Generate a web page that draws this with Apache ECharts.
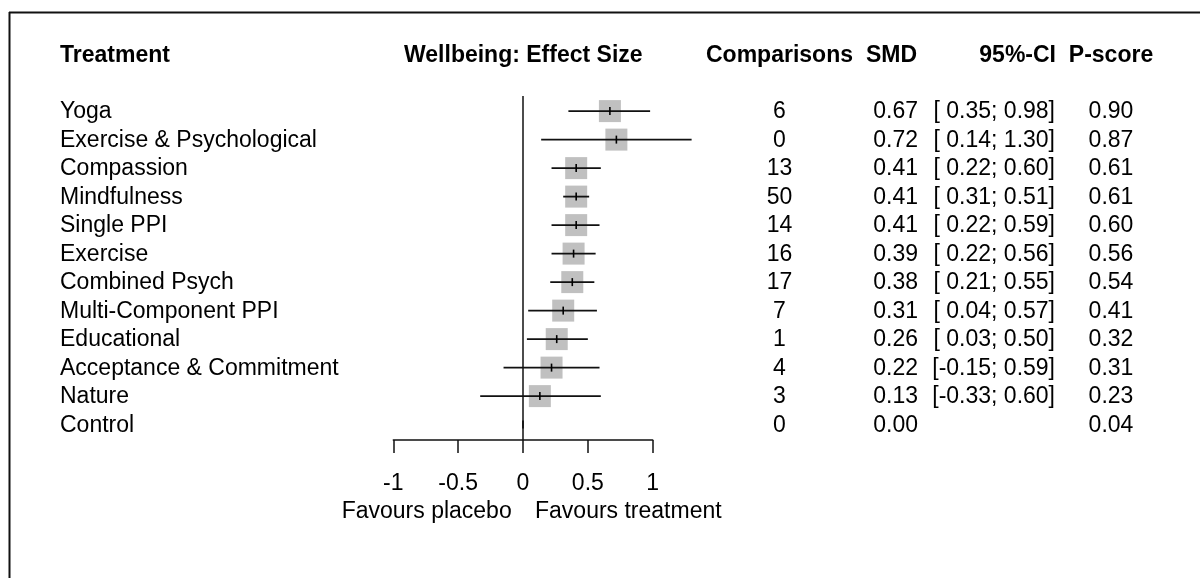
<!DOCTYPE html>
<html>
<head>
<meta charset="utf-8">
<title>Wellbeing forest plot</title>
<script src="https://cdn.jsdelivr.net/npm/echarts@6/dist/echarts.min.js"></script>
<style>
  html, body { margin: 0; padding: 0; background: #fff; }
  #main { width: 1200px; height: 578px; }
</style>
</head>
<body>
<div id="main"></div>
<script>
  // data
  var treatments = ['Yoga', 'Exercise & Psychological', 'Compassion', 'Mindfulness', 'Single PPI', 'Exercise',
    'Combined Psych', 'Multi-Component PPI', 'Educational', 'Acceptance & Commitment', 'Nature', 'Control']
  var comparisons = [6, 0, 13, 50, 14, 16, 17, 7, 1, 4, 3, 0]
  var smd = [0.67, 0.72, 0.41, 0.41, 0.41, 0.39, 0.38, 0.31, 0.26, 0.22, 0.13, 0.00]
  var ciLower = [0.35, 0.14, 0.22, 0.31, 0.22, 0.22, 0.21, 0.04, 0.03, -0.15, -0.33, null]
  var ciUpper = [0.98, 1.30, 0.60, 0.51, 0.59, 0.56, 0.55, 0.57, 0.50, 0.59, 0.60, null]
  var pScore = [0.90, 0.87, 0.61, 0.61, 0.60, 0.56, 0.54, 0.41, 0.32, 0.31, 0.23, 0.04]
  var xTicks = [-1, -0.5, 0, 0.5, 1]

  var FONT = "'Liberation Sans', Arial, Helvetica, sans-serif"
  var FS = 23

  function fmtCI(i) {
    if (ciLower[i] === null) return ''
    var lo = ciLower[i]
    return '[' + (lo >= 0 ? ' ' : '') + lo.toFixed(2) + '; ' + ciUpper[i].toFixed(2) + ']'
  }

  function txt(x, y, s, align, bold) {
    return {
      type: 'text',
      x: x,
      y: y,
      style: {
        text: s,
        fill: '#000',
        font: (bold ? 'bold ' : '') + FS + 'px ' + FONT,
        textAlign: align,
        textVerticalAlign: 'middle'
      }
    }
  }

  var myChart = echarts.init(document.getElementById('main'))

  var option = {
    backgroundColor: '#fff',
    animation: false,
    grid: { left: 393.3, right: 547.3, top: 96, bottom: 138 },
    xAxis: {
      type: 'value',
      position: 'bottom',
      min: -1,
      max: 1,
      interval: 0.5,
      splitLine: { show: false },
      axisLine: { show: true, onZero: false, lineStyle: { color: '#111', width: 1.5 } },
      axisTick: { show: true, length: 13, lineStyle: { color: '#111', width: 1.5 } },
      axisLabel: {
        margin: 32,
        color: '#000',
        fontSize: FS,
        fontFamily: FONT,
        formatter: function (v) {
          return xTicks.indexOf(v) >= 0 ? String(v) : ''
        }
      }
    },
    yAxis: {
      type: 'value',
      inverse: true,
      min: -0.53,
      max: 11.54,
      show: false
    },
    graphic: [
      // frame
      { type: 'line', shape: { x1: 9, y1: 12.5, x2: 1200, y2: 12.5 }, style: { stroke: '#111', lineWidth: 2 } },
      { type: 'line', shape: { x1: 9.5, y1: 12, x2: 9.5, y2: 578 }, style: { stroke: '#111', lineWidth: 2 } },
      // headers
      txt(60, 56, 'Treatment', 'left', true),
      txt(523.3, 56, 'Wellbeing: Effect Size', 'center', true),
      txt(779.5, 56, 'Comparisons', 'center', true),
      txt(917, 56, 'SMD', 'right', true),
      txt(1056, 56, '95%-CI', 'right', true),
      txt(1111, 56, 'P-score', 'center', true),
      // axis annotations
      txt(511.7, 512, 'Favours placebo', 'right', false),
      txt(535, 512, 'Favours treatment', 'left', false)
    ],
    series: [
      {
        // forest marks: square, CI line, point tick
        type: 'custom',
        clip: false,
        silent: true,
        encode: { x: 1, y: 0 },
        data: treatments.map(function (t, i) { return [i, smd[i]] }),
        renderItem: function (params, api) {
          var i = params.dataIndex
          var c = api.coord([smd[i], i])
          var children = []
          if (ciLower[i] !== null) {
            var a = api.coord([ciLower[i], i])
            var b = api.coord([ciUpper[i], i])
            children.push({
              type: 'rect',
              shape: { x: c[0] - 11, y: c[1] - 11, width: 22, height: 22 },
              style: { fill: '#c0c0c0' }
            })
            children.push({
              type: 'line',
              shape: { x1: a[0], y1: a[1], x2: b[0], y2: b[1] },
              style: { stroke: '#111', lineWidth: 1.8 }
            })
          }
          children.push({
            type: 'line',
            shape: { x1: c[0], y1: c[1] - 4, x2: c[0], y2: c[1] + 4 },
            style: { stroke: '#000', lineWidth: 1.6 }
          })
          return { type: 'group', children: children }
        },
        markLine: {
          silent: true,
          symbol: 'none',
          label: { show: false },
          lineStyle: { color: '#111', width: 1.5, type: 'solid' },
          data: [{ xAxis: 0 }]
        }
      },
      {
        // table columns
        type: 'custom',
        clip: false,
        silent: true,
        encode: { x: 1, y: 0 },
        data: treatments.map(function (t, i) { return [i, 0] }),
        renderItem: function (params, api) {
          var i = params.dataIndex
          var y = api.coord([0, i])[1] + 1
          return {
            type: 'group',
            children: [
              txt(60, y, treatments[i], 'left', false),
              txt(779.5, y, String(comparisons[i]), 'center', false),
              txt(918, y, smd[i].toFixed(2), 'right', false),
              txt(1055, y, fmtCI(i), 'right', false),
              txt(1111, y, pScore[i].toFixed(2), 'center', false)
            ]
          }
        }
      }
    ]
  }

  myChart.setOption(option)
</script>
</body>
</html>
